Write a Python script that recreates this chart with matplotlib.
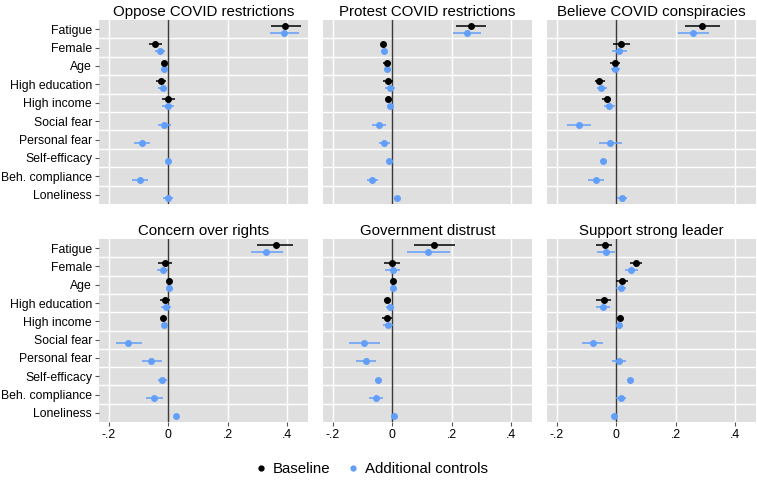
#!/usr/bin/env python3

from matplotlib import pyplot as plt
from matplotlib.lines import Line2D
import numpy as np

plt.rcParams['font.family'] = ['Liberation Sans', 'DejaVu Sans']

variables = ['Fatigue', 'Female', 'Age', 'High education', 'High income',
             'Social fear', 'Personal fear', 'Self-efficacy', 'Beh. compliance',
             'Loneliness']
titles = ['Oppose COVID restrictions', 'Protest COVID restrictions',
          'Believe COVID conspiracies', 'Concern over rights',
          'Government distrust', 'Support strong leader']

# baseline model: only first 5 variables  (estimate, lower, upper)
base_est = [
    [0.394, -0.043, -0.015, -0.025, 0.000],
    [0.266, -0.029, -0.017, -0.013, -0.012],
    [0.290, 0.017, -0.004, -0.056, -0.031],
    [0.361, -0.010, 0.002, -0.010, -0.018],
    [0.142, 0.000, 0.002, -0.016, -0.017],
    [-0.037, 0.066, 0.020, -0.041, 0.012],
]
base_lo = [
    [0.346, -0.063, -0.022, -0.040, -0.022],
    [0.214, -0.038, -0.030, -0.031, -0.021],
    [0.231, -0.011, -0.022, -0.072, -0.047],
    [0.300, -0.034, -0.004, -0.026, -0.025],
    [0.074, -0.028, -0.004, -0.028, -0.035],
    [-0.067, 0.046, 0.001, -0.067, 0.003],
]
base_hi = [
    [0.445, -0.020, -0.008, -0.007, 0.022],
    [0.317, -0.019, -0.003, 0.004, -0.002],
    [0.348, 0.046, 0.013, -0.038, -0.016],
    [0.420, 0.013, 0.008, 0.007, -0.010],
    [0.213, 0.028, 0.008, -0.002, -0.001],
    [-0.015, 0.087, 0.040, -0.016, 0.021],
]

# additional controls model: all 10 variables
add_est = [
    [0.391, -0.027, -0.015, -0.018, 0.000, -0.012, -0.087, 0.001, -0.093, -0.001],
    [0.252, -0.027, -0.016, -0.008, -0.008, -0.044, -0.026, -0.010, -0.068, 0.015],
    [0.260, 0.009, -0.003, -0.049, -0.024, -0.124, -0.019, -0.043, -0.067, 0.020],
    [0.329, -0.018, 0.002, -0.006, -0.013, -0.133, -0.056, -0.019, -0.046, 0.027],
    [0.122, 0.002, 0.002, -0.008, -0.013, -0.093, -0.089, -0.046, -0.055, 0.006],
    [-0.034, 0.050, 0.015, -0.044, 0.010, -0.078, 0.010, 0.048, 0.016, -0.008],
]
add_lo = [
    [0.342, -0.045, -0.021, -0.035, -0.019, -0.033, -0.113, -0.007, -0.120, -0.016],
    [0.204, -0.036, -0.027, -0.025, -0.018, -0.067, -0.045, -0.020, -0.085, 0.006],
    [0.209, -0.015, -0.018, -0.063, -0.041, -0.166, -0.059, -0.054, -0.094, 0.004],
    [0.277, -0.038, -0.004, -0.023, -0.022, -0.176, -0.089, -0.035, -0.074, 0.019],
    [0.050, -0.024, -0.004, -0.019, -0.031, -0.145, -0.122, -0.057, -0.077, -0.002],
    [-0.063, 0.029, 0.001, -0.067, 0.002, -0.113, -0.015, 0.038, 0.000, -0.016],
]
add_hi = [
    [0.439, -0.010, -0.008, -0.002, 0.020, 0.011, -0.060, 0.008, -0.067, 0.015],
    [0.300, -0.018, -0.004, 0.010, 0.004, -0.019, -0.006, 0.001, -0.048, 0.025],
    [0.312, 0.036, 0.012, -0.031, -0.005, -0.083, 0.021, -0.029, -0.039, 0.037],
    [0.385, 0.001, 0.008, 0.011, -0.004, -0.089, -0.021, -0.003, -0.017, 0.035],
    [0.195, 0.028, 0.008, 0.005, 0.003, -0.041, -0.055, -0.034, -0.031, 0.014],
    [-0.003, 0.073, 0.034, -0.020, 0.019, -0.044, 0.035, 0.060, 0.033, 0.000],
]

xticks = [-0.2, 0, 0.2, 0.4]
xticklabels = ['-.2', '0', '.2', '.4']

blue = '#629ffa'
bg = '#dfdfdf'

fig = plt.figure(figsize=(7.57, 4.84), dpi=100)

lefts = [99, 323, 547]
rows = [(20, 204), (239, 422)]
W, H = 757, 484

y = np.arange(len(variables))
off = 0.19

for i in range(6):
    r, c = divmod(i, 3)
    top, bot = rows[r]
    ax = fig.add_axes([lefts[c] / W, 1 - bot / H, 209 / W, (bot - top) / H])
    ax.set_facecolor(bg)
    for s in ax.spines.values():
        s.set_visible(False)

    # grid lines
    for xv in xticks:
        if xv != 0:
            ax.axvline(xv, color='white', lw=1.0, zorder=1)
    for k in range(len(variables) - 1):
        ax.axhline(k + 0.5, color='white', lw=1.0, zorder=1)
    ax.axvline(0, color='#3a3a3a', lw=1.0, zorder=2)

    nb = len(base_est[i])
    be = np.array(base_est[i])
    ax.errorbar(be, y[:nb] - off,
                xerr=[be - np.array(base_lo[i]), np.array(base_hi[i]) - be],
                fmt='o', color='black', ms=4, elinewidth=1.1, capsize=0, zorder=4)
    ae = np.array(add_est[i])
    ax.errorbar(ae, y + off,
                xerr=[ae - np.array(add_lo[i]), np.array(add_hi[i]) - ae],
                fmt='o', color=blue, ms=4, elinewidth=1.1, capsize=0, zorder=3)

    ax.set_xlim(-0.232, 0.47)
    ax.set_ylim(len(variables) - 0.5, -0.5)
    ax.set_xticks(xticks)
    ax.set_yticks(y)
    ax.tick_params(length=3, width=0.8, color='#555555', labelsize=8.8, pad=2)
    if c == 0:
        ax.set_yticklabels(variables)
    else:
        ax.tick_params(axis='y', left=False, labelleft=False)
    if r == 1:
        ax.set_xticklabels(xticklabels)
    else:
        ax.tick_params(axis='x', bottom=False, labelbottom=False)
    ax.set_title(titles[i], fontsize=10.8, pad=3)

handles = [
    Line2D([], [], marker='o', ls='none', color='black', ms=3.5, label='Baseline'),
    Line2D([], [], marker='o', ls='none', color=blue, ms=3.5, label='Additional controls'),
]
fig.legend(handles=handles, loc='center', bbox_to_anchor=(371 / W, 1 - 469 / H),
           ncols=2, frameon=False, fontsize=10.8, handletextpad=0.3,
           columnspacing=1.0, handlelength=1.0)

plt.savefig('out.png')
plt.close()
